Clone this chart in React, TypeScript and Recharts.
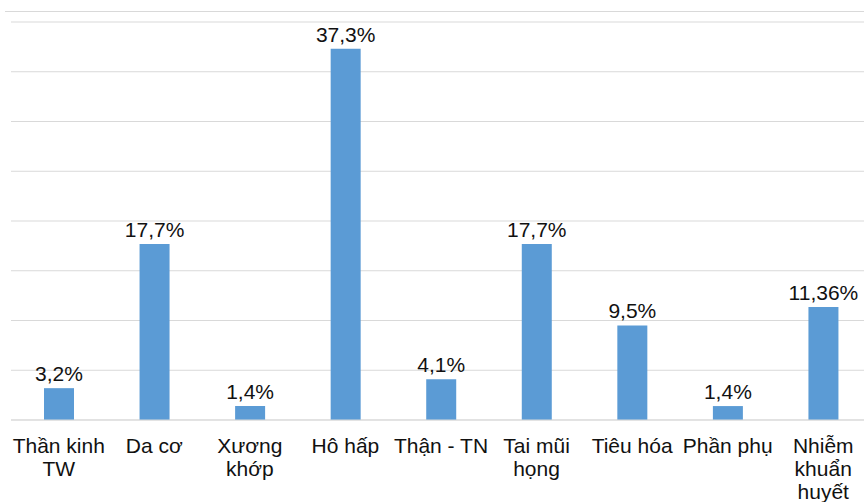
import React from 'react'
import { BarChart, Bar, XAxis, YAxis, CartesianGrid, LabelList } from 'recharts'

// categories: '\n' marks where the axis label wraps
const categories = [
  'Thần kinh\nTW',
  'Da cơ',
  'Xương\nkhớp',
  'Hô hấp',
  'Thận - TN',
  'Tai mũi\nhọng',
  'Tiêu hóa',
  'Phần phụ',
  'Nhiễm\nkhuẩn\nhuyết',
]
const percents = [3.2, 17.7, 1.4, 37.3, 4.1, 17.7, 9.5, 1.4, 11.36]
const percentLabels = ['3,2%', '17,7%', '1,4%', '37,3%', '4,1%', '17,7%', '9,5%', '1,4%', '11,36%']
const yTicks = [0, 5, 10, 15, 20, 25, 30, 35, 40]

const data = categories.map((name, i) => ({
  name,
  value: percents[i],
  label: percentLabels[i],
}))

const FONT = '"Liberation Sans", Arial, sans-serif'

function CategoryTick(props: any) {
  const { x, y, payload } = props
  const lines = String(payload.value).split('\n')
  return (
    <text x={x} y={y} textAnchor="middle" fontFamily={FONT} fontSize={21} fill="#111">
      {lines.map((line, i) => (
        <tspan key={i} x={x} dy={i === 0 ? 25 : 23}>
          {line}
        </tspan>
      ))}
    </text>
  )
}

export default function App() {
  return (
    <div
      style={{
        position: 'fixed',
        left: 0,
        top: 0,
        width: 864,
        height: 502,
        overflow: 'hidden',
        background: '#fff',
      }}
    >
      <div
        style={{
          position: 'absolute',
          left: 5,
          right: 0,
          top: 11,
          height: 1,
          background: '#D9D9D9',
        }}
      />
      <BarChart
        width={880}
        height={502}
        data={data}
        margin={{ top: 22, right: 9, left: 11, bottom: 0 }}
      >
        <CartesianGrid vertical={false} stroke="#D9D9D9" strokeWidth={1.2} />
        <XAxis
          dataKey="name"
          height={82}
          axisLine={{ stroke: '#D9D9D9' }}
          tickLine={false}
          interval={0}
          tick={<CategoryTick />}
        />
        <YAxis hide width={0} domain={[0, 40]} ticks={yTicks} />
        <Bar dataKey="value" fill="#5B9BD5" barSize={30} isAnimationActive={false}>
          <LabelList
            dataKey="label"
            position="top"
            offset={7}
            fontFamily={FONT}
            fontSize={21}
            fill="#111"
          />
        </Bar>
      </BarChart>
    </div>
  )
}
